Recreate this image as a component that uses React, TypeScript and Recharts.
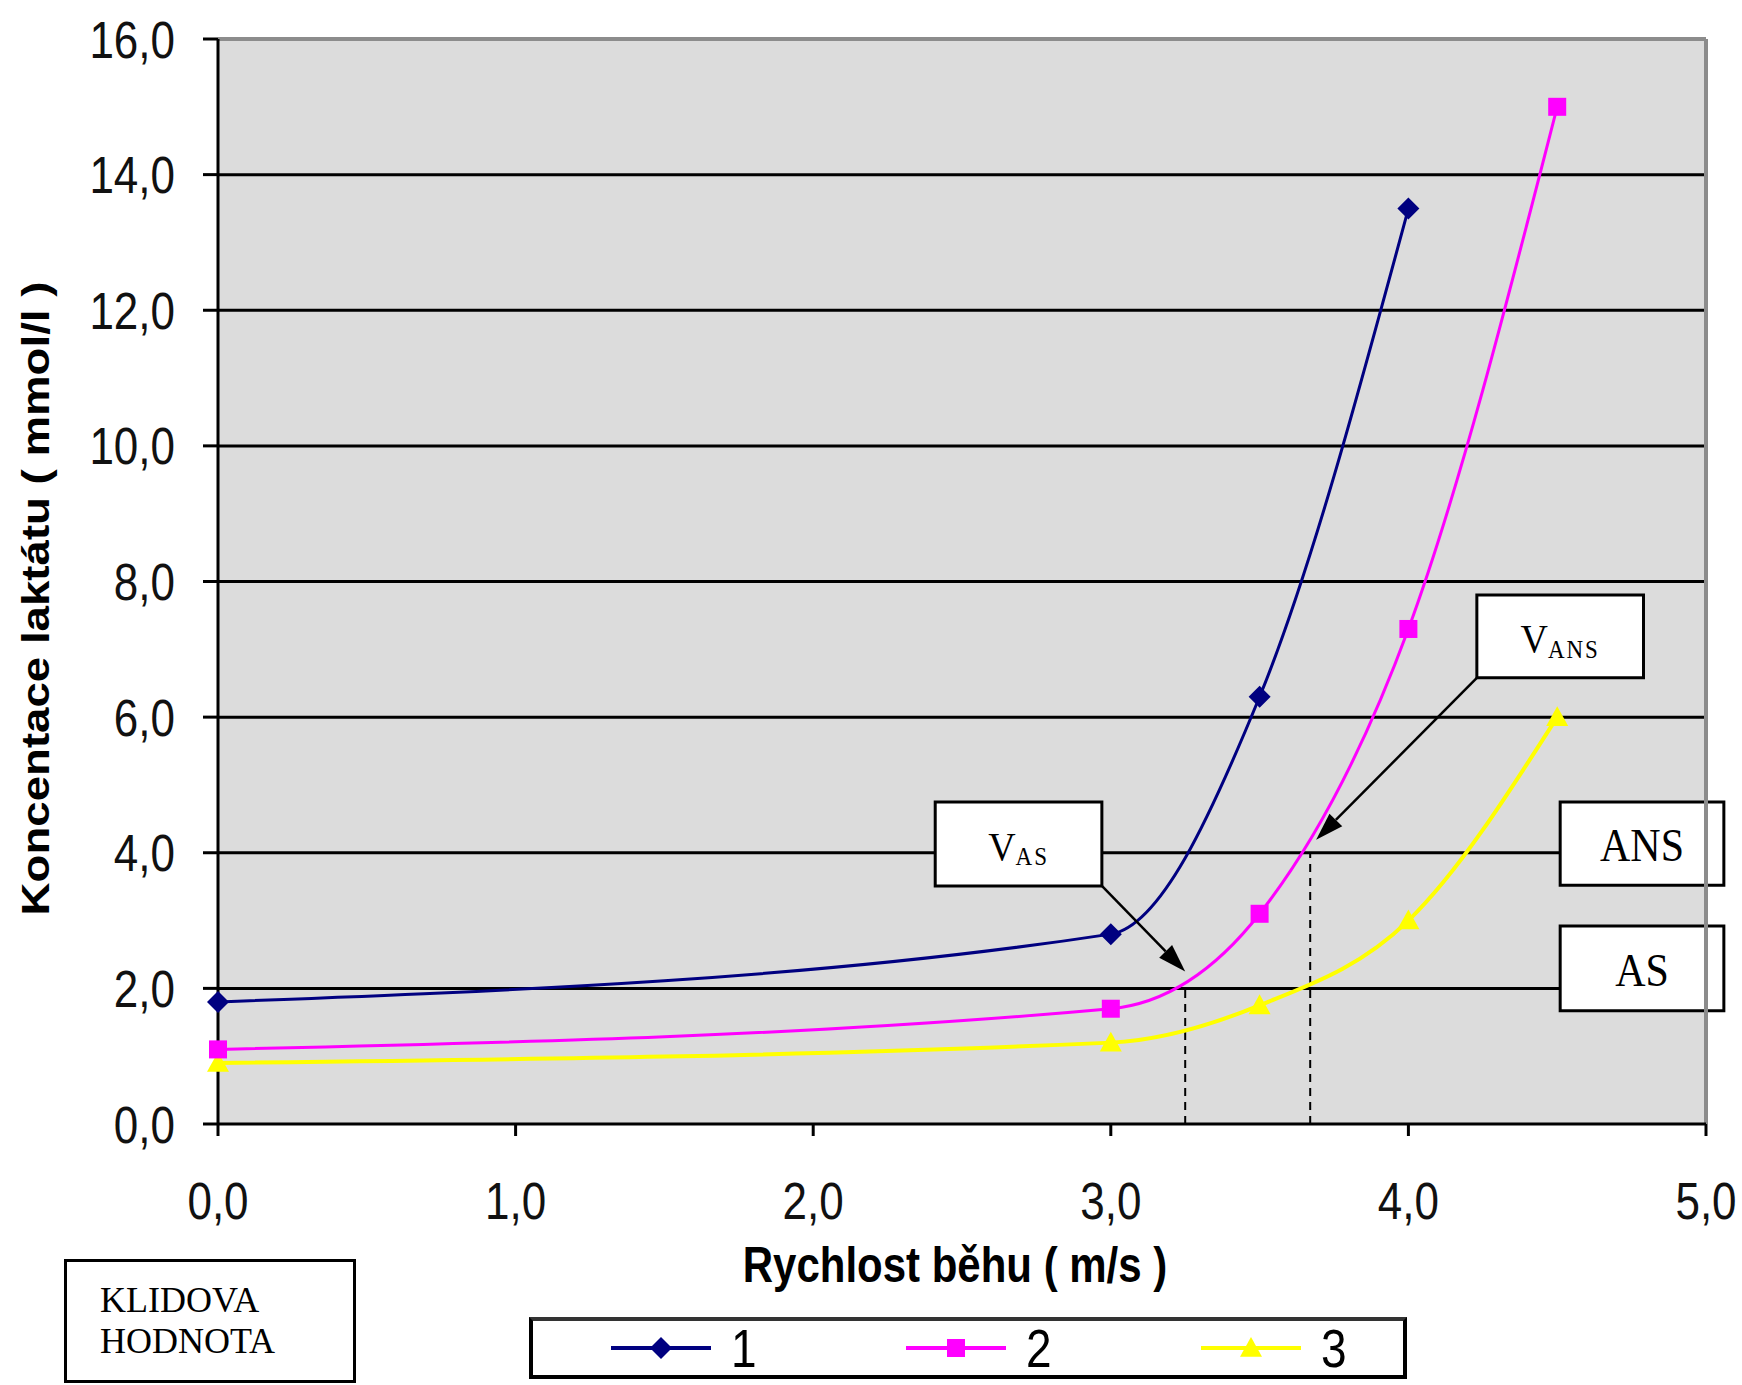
import { LineChart, Line, XAxis, YAxis, CartesianGrid, ReferenceLine, ReferenceArea } from "recharts"

// lactate curve test, three runners
const speeds = [0, 3, 3.5, 4, 4.5]
const runner1 = [1.8, 2.8, 6.3, 13.5]
const runner2 = [1.1, 1.7, 3.1, 7.3, 15.0]
const runner3 = [0.9, 1.2, 1.75, 3.0, 6.0]
const seriesNames = ["1", "2", "3"]
const seriesColors = ["#000080", "#ff00ff", "#ffff00"]
const xTicks = [0, 1, 2, 3, 4, 5]
const yTicks = [0, 2, 4, 6, 8, 10, 12, 14, 16]
const gridValues = [2, 4, 6, 8, 10, 12, 14]
const asLevel = 2
const ansLevel = 4
const vAS = 3.25
const vANS = 3.67

const toPoints = (vals: number[]) => vals.map((y, i) => ({ x: speeds[i], y }))
const data1 = toPoints(runner1)
const data2 = toPoints(runner2)
const data3 = toPoints(runner3)

const fmt = (v: number) => v.toFixed(1).replace(".", ",")
const sans = "'Liberation Sans', Arial, sans-serif"
const serif = "'Liberation Serif', 'Times New Roman', serif"
const STRETCH = 1.17

function YTick({ x, y, payload }: any) {
  return (
    <text transform={`translate(${x},${y}) scale(1,${STRETCH})`} textAnchor="end" dy="0.36em" fontFamily={sans} fontSize={44} fill="#111">
      {fmt(payload.value)}
    </text>
  )
}

function XTick({ x, y, payload }: any) {
  return (
    <text transform={`translate(${x},${y + 64}) scale(1,${STRETCH})`} textAnchor="middle" dy="0.36em" fontFamily={sans} fontSize={44} fill="#111">
      {fmt(payload.value)}
    </text>
  )
}

function XTitle({ viewBox }: any) {
  const cx = viewBox.x + viewBox.width / 2 - 7
  return (
    <text transform={`translate(${cx},${viewBox.y + 140}) scale(1,${STRETCH})`} textAnchor="middle" dy="0.36em" fontFamily={sans} fontWeight="bold" fontSize={42} fill="#000">
      Rychlost běhu ( m/s )
    </text>
  )
}

function YTitle({ viewBox }: any) {
  const cy = viewBox.y + viewBox.height / 2 + 17
  return (
    <text transform={`translate(${viewBox.x + 35},${cy}) rotate(-90) scale(${STRETCH},1)`} textAnchor="middle" dy="0.36em" fontFamily={sans} fontWeight="bold" fontSize={39} fill="#000">
      Koncentace laktátu ( mmol/l )
    </text>
  )
}

function BoxLabel({ viewBox, main, sub }: any) {
  const cx = viewBox.x + viewBox.width / 2
  const cy = viewBox.y + viewBox.height / 2
  return (
    <text transform={`translate(${cx},${cy + 2}) scale(1,1.08)`} textAnchor="middle" dy="0.34em" fontFamily={serif} fontSize={sub ? 38 : 42} fill="#000">
      {main}
      {sub && <tspan fontSize={23} dy={5} letterSpacing={2}>{sub}</tspan>}
    </text>
  )
}

function Arrow({ x1, y1, x2, y2 }: any) {
  const a = Math.atan2(y2 - y1, x2 - x1)
  const len = 28
  const w = 9
  const bx = x2 - len * Math.cos(a)
  const by = y2 - len * Math.sin(a)
  const px = -Math.sin(a) * w
  const py = Math.cos(a) * w
  return (
    <g>
      <line x1={x1} y1={y1} x2={bx} y2={by} stroke="#000" strokeWidth={2.5} />
      <polygon points={`${x2},${y2} ${bx + px},${by + py} ${bx - px},${by - py}`} fill="#000" />
    </g>
  )
}

function Diamond({ cx, cy, fill, size = 11 }: any) {
  if (cx == null || cy == null) return null
  return <polygon points={`${cx},${cy - size} ${cx + size},${cy} ${cx},${cy + size} ${cx - size},${cy}`} fill={fill} />
}

function Square({ cx, cy, fill, size = 9 }: any) {
  if (cx == null || cy == null) return null
  return <rect x={cx - size} y={cy - size} width={size * 2} height={size * 2} fill={fill} />
}

function Triangle({ cx, cy, fill, size = 11 }: any) {
  if (cx == null || cy == null) return null
  return <polygon points={`${cx},${cy - size} ${cx + size},${cy + size * 0.8} ${cx - size},${cy + size * 0.8}`} fill={fill} />
}

const markers = [Diamond, Square, Triangle]

function LegendBox() {
  return (
    <div style={{ position: "absolute", left: 529, top: 1317, width: 878, height: 62, border: "4px solid #000", borderTopColor: "#333", boxSizing: "border-box", background: "#fff" }}>
      {seriesNames.map((name, i) => {
        const M = markers[i]
        return (
          <div key={name} style={{ position: "absolute", left: 76 + i * 295, top: 0, height: 54, display: "flex", alignItems: "center" }}>
            <svg width={104} height={30}>
              <line x1={2} y1={15} x2={102} y2={15} stroke={seriesColors[i]} strokeWidth={4} />
              <M cx={52} cy={15} fill={seriesColors[i]} />
            </svg>
            <span style={{ fontFamily: sans, fontSize: 46, marginLeft: 18, display: "inline-block", transform: `scale(1,${STRETCH})`, lineHeight: 1 }}>
              {name}
            </span>
          </div>
        )
      })}
    </div>
  )
}

export default function App() {
  return (
    <div style={{ position: "relative", width: 1742, height: 1385, background: "#fff", overflow: "hidden" }}>
      <style>{"body{margin:0}"}</style>
      <LineChart width={1742} height={1385} margin={{ top: 39, right: 36, bottom: 121, left: 0 }}>
        <CartesianGrid vertical={false} horizontalValues={gridValues} fill="#dcdcdc" stroke="#000" strokeWidth={3} />
        <XAxis
          dataKey="x"
          type="number"
          domain={[0, 5]}
          ticks={xTicks}
          interval={0}
          height={140}
          tickSize={12}
          tickMargin={0}
          stroke="#000"
          strokeWidth={3}
          tick={<XTick />}
          label={<XTitle />}
        />
        <YAxis
          type="number"
          domain={[0, 16]}
          ticks={yTicks}
          interval={0}
          width={218}
          tickSize={15}
          tickMargin={28}
          stroke="#000"
          strokeWidth={3}
          tick={<YTick />}
          label={<YTitle />}
        />
        <ReferenceLine y={16} stroke="#8c8c8c" strokeWidth={4} />
        <ReferenceLine x={5} stroke="#8c8c8c" strokeWidth={4} />

        <ReferenceLine segment={[{ x: vAS, y: 0 }, { x: vAS, y: asLevel }]} stroke="#000" strokeWidth={2} strokeDasharray="8 6" />
        <ReferenceLine segment={[{ x: vANS, y: 0 }, { x: vANS, y: ansLevel }]} stroke="#000" strokeWidth={2} strokeDasharray="8 6" />

        <Line data={data3} dataKey="y" name={seriesNames[2]} type="monotone" stroke={seriesColors[2]} strokeWidth={4} dot={(p: any) => <Triangle key={p.index} cx={p.cx} cy={p.cy} fill={seriesColors[2]} />} activeDot={false} isAnimationActive={false} />
        <Line data={data2} dataKey="y" name={seriesNames[1]} type="monotone" stroke={seriesColors[1]} strokeWidth={3} dot={(p: any) => <Square key={p.index} cx={p.cx} cy={p.cy} fill={seriesColors[1]} />} activeDot={false} isAnimationActive={false} />
        <Line data={data1} dataKey="y" name={seriesNames[0]} type="monotone" stroke={seriesColors[0]} strokeWidth={3} dot={(p: any) => <Diamond key={p.index} cx={p.cx} cy={p.cy} fill={seriesColors[0]} />} activeDot={false} isAnimationActive={false} />

        <ReferenceArea x1={2.41} x2={2.97} y1={3.51} y2={4.75} ifOverflow="visible" fill="#fff" fillOpacity={1} stroke="#000" strokeWidth={3} label={<BoxLabel main="V" sub="AS" />} />
        <ReferenceArea x1={4.23} x2={4.79} y1={6.58} y2={7.8} ifOverflow="visible" fill="#fff" fillOpacity={1} stroke="#000" strokeWidth={3} label={<BoxLabel main="V" sub="ANS" />} />
        <ReferenceArea x1={4.51} x2={5.06} y1={3.52} y2={4.75} ifOverflow="visible" fill="#fff" fillOpacity={1} stroke="#000" strokeWidth={3} label={<BoxLabel main="ANS" />} />
        <ReferenceArea x1={4.51} x2={5.06} y1={1.67} y2={2.92} ifOverflow="visible" fill="#fff" fillOpacity={1} stroke="#000" strokeWidth={3} label={<BoxLabel main="AS" />} />

        <ReferenceLine segment={[{ x: 2.97, y: 3.51 }, { x: 3.25, y: 2.25 }]} ifOverflow="visible" shape={<Arrow />} />
        <ReferenceLine segment={[{ x: 4.23, y: 6.58 }, { x: 3.69, y: 4.19 }]} ifOverflow="visible" shape={<Arrow />} />
      </LineChart>

      <div style={{ position: "absolute", left: 64, top: 1259, width: 292, height: 124, border: "3px solid #000", boxSizing: "border-box", background: "#fff", fontFamily: serif, fontSize: 36, lineHeight: "41px", padding: "18px 0 0 33px", whiteSpace: "pre" }}>
        {"KLIDOVA\nHODNOTA"}
      </div>
      <LegendBox />
    </div>
  )
}
